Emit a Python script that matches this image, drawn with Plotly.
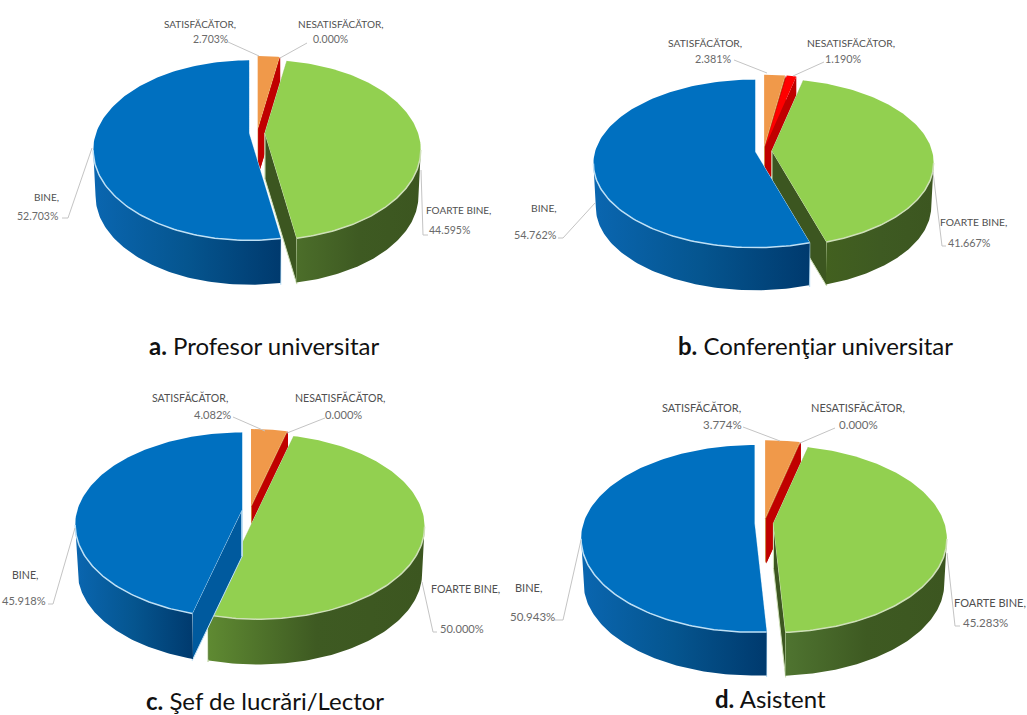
import numpy as np
import plotly.graph_objects as go

# ---- data -----------------------------------------------------------------
categories = ["FOARTE BINE", "BINE", "SATISFĂCĂTOR", "NESATISFĂCĂTOR"]
values_a = [44.595, 52.703, 2.703, 0.000]
values_b = [41.667, 54.762, 2.381, 1.190]
values_c = [50.000, 45.918, 4.082, 0.000]
values_d = [45.283, 50.943, 3.774, 0.000]
caption_letters = ["a.", "b.", "c.", "d."]
caption_texts = ["Profesor universitar", "Conferenţiar universitar", "Şef de lucrări/Lector", "Asistent"]

# ---- geometry and styling of each pie (page pixels) ---------------------------
panels = [
    dict(vals=values_a, cx=257, cy=133, e=8, rx=153, ry=86.8, p=.189, d=46, cap=(264, 345), fs=10,
         gl="#4c6e2a",
         lab={"S": ((200, 24), (210, 39), [(228, 42), (259, 56)]),
              "N": ((340, 24), (330, 39), [(307, 43), (280, 58)]),
              "B": ((46, 197), (37, 216), [(62, 218), (68, 218), (92, 148)]),
              "F": ((458, 210), (449, 230), [(428, 235), (423, 235), (421, 170)])}),
    dict(vals=values_b, cx=763.5, cy=151, e=8.5, rx=160, ry=82.3, p=.143, d=44, cap=(815, 345), fs=10.3,
         gl="#42601f",
         lab={"S": ((705, 43), (713, 58), [(734, 60), (767, 73)]),
              "N": ((851, 43), (843, 58), [(824, 62), (793, 76)]),
              "B": ((544, 208), (535, 234), [(558, 238), (563, 238), (595, 203)]),
              "F": ((973, 222), (969, 242), [(946, 246), (942, 246), (933, 172)])}),
    dict(vals=values_c, cx=250, cy=510, e=8, rx=164.5, ry=90, p=.168, d=47, cap=(265, 700), fs=10.6,
         gl="#5f8a32",
         lab={"S": ((190, 397), (212, 414), [(233, 417), (265, 431)]),
              "N": ((340, 397), (343, 414), [(325, 418), (287, 433)]),
              "B": ((25, 575), (24, 600), [(48, 604), (53, 604), (75, 528)]),
              "F": ((465, 589), (462, 628), [(437, 632), (433, 632), (422, 582)])}),
    dict(vals=values_d, cx=764, cy=523, e=9.5, rx=171, ry=91, p=.166, d=45, cap=(770, 698), fs=11,
         gl="#4f7430",
         lab={"S": ((701, 407), (722, 424), [(743, 427), (780, 441)]),
              "N": ((858, 407), (858, 424), [(835, 428), (800, 443)]),
              "B": ((528, 587), (532, 616), [(555, 620), (563, 620), (581, 540)]),
              "F": ((990, 602), (985, 622), [(960, 626), (955, 626), (947, 553)])}),
]

TOP = {"F": "#92d050", "B": "#0070c0", "S": "#f0994a", "N": "#ff0000"}
FACE = {"F": "#3c5620", "B": "#005a9e", "S": "#c9772f", "N": "#c00000"}
RIM = {"F": "#cfe0b8", "B": "#bfe0f5", "S": "#f8d8b8", "N": "#ffc0c0"}
BLUE_WALL = [[0, "#0a66b0"], [.5, "#05558f"], [1, "#003a6e"]]
KEYS = ["F", "B", "S", "N"]


def rim(th, pn, ox, oy, scale=1.0, drop=0.0):
    den = 1 + pn["p"] * np.cos(th)
    x = pn["cx"] + ox + scale * pn["rx"] * np.sin(th) / den
    y = pn["cy"] + oy + drop - scale * pn["ry"] * np.cos(th) / den
    return x, y


fig = go.Figure()


def poly(x, y, color=None, line=None, grad=None, width=1):
    kw = dict(x=list(x), y=list(y), mode="lines", hoverinfo="skip", showlegend=False)
    kw["line"] = dict(color=line or "rgba(0,0,0,0)", width=width if line else 0)
    if color or grad:
        kw["fill"] = "toself"
    if color:
        kw["fillcolor"] = color
    if grad:
        kw["fillgradient"] = dict(type="horizontal", colorscale=grad)
    fig.add_trace(go.Scatter(**kw))


def draw_slice(pn, key, a0, a1):
    mid = (a0 + a1) / 2
    ox = pn["e"] * np.sin(mid)
    oy = -0.5 * pn["e"] * np.cos(mid)
    cx, cy = pn["cx"] + ox, pn["cy"] + oy
    d = pn["d"]
    # radial cut faces
    for a in (a0, a1):
        rx0, ry0 = rim(np.array([a]), pn, ox, oy)
        poly([cx, rx0[0], rx0[0], cx, cx], [cy, ry0[0], ry0[0] + d, cy + d, cy],
             color=FACE[key], line=RIM[key] if key in "FB" else None)
    # outer wall, only where the rim faces the viewer
    lim = np.arccos(-pn["p"])
    lo, hi = max(a0, lim), min(a1, 2 * np.pi - lim)
    if hi > lo and key in "FB":
        th = np.linspace(lo, hi, 80)
        xu, yu = rim(th, pn, ox, oy)
        xl, yl = rim(th, pn, ox, oy, scale=.985, drop=d)
        grad = BLUE_WALL if key == "B" else [[0, pn["gl"]], [.5, "#3e5a22"], [1, "#3c5620"]]
        poly(np.r_[xu, xl[::-1], xu[0]], np.r_[yu, yl[::-1], yu[0]], grad=grad)
    # top
    if a1 > a0:
        th = np.linspace(a0, a1, 120)
        xu, yu = rim(th, pn, ox, oy)
        poly(np.r_[cx, xu, cx], np.r_[cy, yu, cy], color=TOP[key])
        if hi > lo:
            thf = np.linspace(lo, hi, 80)
            xf, yf = rim(thf, pn, ox, oy)
            poly(xf, yf, line=RIM[key], width=1.5)


for pn in panels:
    v = dict(zip(KEYS, pn["vals"]))
    tot = sum(v.values())
    ang = {}
    a = 0.0
    for k in ["S", "N", "F", "B"]:
        b = a + v[k] / tot * 2 * np.pi
        ang[k] = (a, b)
        a = b
    for k in ["S", "N", "F", "B"]:
        draw_slice(pn, k, *ang[k])
    for k in KEYS:
        _, _, leader = pn["lab"][k]
        poly([q[0] for q in leader], [q[1] for q in leader], line="#c4c4c4", width=1)

annos = []
for pn, let, cap in zip(panels, caption_letters, caption_texts):
    for k, name, val in zip(KEYS, categories, pn["vals"]):
        p1, p2, _ = pn["lab"][k]
        annos.append(dict(x=p1[0], y=p1[1], text=name + ",", showarrow=False, xref="x", yref="y",
                          font=dict(family="Lato", size=pn["fs"], color="#505050")))
        annos.append(dict(x=p2[0], y=p2[1], text=f"{val:.3f}%",
                          showarrow=False, xref="x", yref="y",
                          font=dict(family="Lato", size=pn["fs"] + .5, color="#6a6a6a")))
    annos.append(dict(x=pn["cap"][0], y=pn["cap"][1], text=f"<b>{let}</b> {cap}", showarrow=False,
                      xref="x", yref="y", font=dict(family="Lato", size=24, color="#111111")))

fig.update_layout(
    width=1027, height=715, margin=dict(l=0, r=0, t=0, b=0),
    paper_bgcolor="white", plot_bgcolor="white", annotations=annos, showlegend=False,
    xaxis=dict(range=[0, 1027], visible=False, fixedrange=True),
    yaxis=dict(range=[715, 0], visible=False, fixedrange=True),
)
fig.write_html("out.html", config={"displayModeBar": False},
               post_script="document.body.style.margin='0';document.body.style.overflow='hidden';")
